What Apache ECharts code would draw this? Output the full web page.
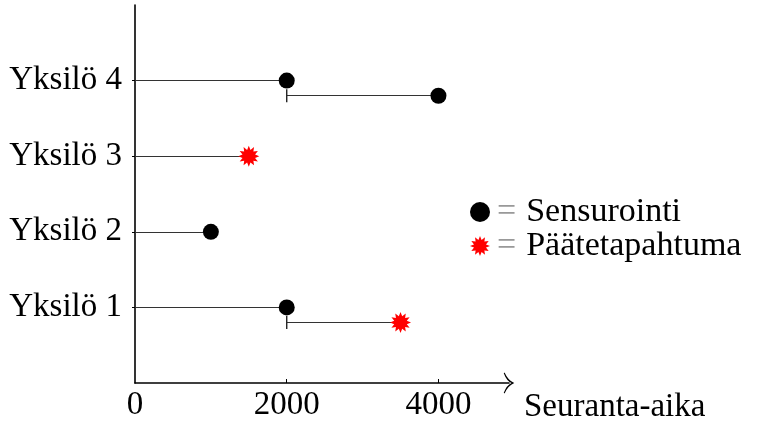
<!DOCTYPE html>
<html>
<head>
<meta charset="utf-8">
<script src="https://cdn.jsdelivr.net/npm/echarts@6/dist/echarts.min.js"></script>
<style>
  html, body { margin: 0; padding: 0; background: #fff; }
  #chart { width: 758px; height: 425px; }
</style>
</head>
<body>
<div id="chart"></div>
<script>
// yksilöt ja seuranta-ajat
const individuals = ['Yksilö 1', 'Yksilö 2', 'Yksilö 3', 'Yksilö 4'];
const rows = [1, 2, 3, 4];
const firstEnd = [2000, 1000, 1500, 2000];
const firstType = ['S', 'S', 'P', 'S'];
const secondEnd = [3500, null, null, 4000];
const secondType = ['P', null, null, 'S'];
const secondShift = 0.2;
const xTicks = [0, 2000, 4000];
const legendNames = ['Sensurointi', 'Päätetapahtuma'];

// tähti-symboli (12 sakaraa)
let star = 'path://';
for (let i = 0; i < 24; i++) {
    let r = i % 2 === 0 ? 10 : 6.2;
    let a = Math.PI * i / 12 - Math.PI / 2;
    star += (i === 0 ? 'M' : 'L') + (10 + r * Math.cos(a)).toFixed(2) + ' ' + (10 + r * Math.sin(a)).toFixed(2) + ' ';
}
star += 'Z';
// nuolenkärki, 2:1 koska symboli pitää kuvasuhteen
const chevron = 'path://M10 0 Q12.5 6 20 9.2 L19.4 10 Q12 7.2 10 2.6 Q8 7.2 0.6 10 L0 9.2 Q7.5 6 10 0 Z';

window.onload = () => {
    let chart = echarts.init(document.getElementById('chart'));

    let segs = [];
    let starts = [];
    let censor = [];
    let events = [];
    rows.forEach((y, i) => {
        segs.push({coords: [[0, y], [firstEnd[i], y]]});
        (firstType[i] === 'S' ? censor : events).push([firstEnd[i], y]);
        if (secondEnd[i] !== null) {
            let y2 = y - secondShift;
            segs.push({coords: [[firstEnd[i], y2], [secondEnd[i], y2]]});
            starts.push([firstEnd[i], y2]);
            (secondType[i] === 'S' ? censor : events).push([secondEnd[i], y2]);
        }
    });

    const font = 'Liberation Serif';
    const fs = 33;

    let option = {
        animation: false,
        grid: {left: 135, top: 5, right: 249, bottom: 42, containLabel: false},
        legend: {
            orient: 'vertical',
            left: 465,
            top: 190,
            itemWidth: 20,
            itemHeight: 20,
            itemGap: 0,
            itemStyle: {opacity: 1},
            selectedMode: false,
            data: legendNames,
            formatter: name => '{eq|=}{t|' + name + '}',
            textStyle: {
                fontFamily: font, fontSize: 34, color: '#000', lineHeight: 34,
                rich: {
                    eq: {color: '#999', fontFamily: font, fontSize: 34, padding: [0, 10, 0, 2], lineHeight: 34},
                    t: {color: '#000', fontFamily: font, fontSize: 34, lineHeight: 34}
                }
            }
        },
        xAxis: {
            type: 'value',
            min: 0,
            max: 4930,
            splitLine: {show: false},
            axisLine: {
                lineStyle: {color: '#000', width: 1.6},
                symbol: ['none', chevron],
                symbolSize: [21, 10.5]
            },
            axisTick: {inside: true, length: 4, customValues: [2000, 4000], lineStyle: {color: '#000'}},
            axisLabel: {
                customValues: xTicks,
                margin: 6,
                formatter: v => String(v),
                fontFamily: font, fontSize: fs, color: '#000'
            }
        },
        yAxis: {
            type: 'value',
            min: 0,
            max: 5,
            splitLine: {show: false},
            axisLine: {lineStyle: {color: '#000', width: 1.6}},
            axisTick: {length: 3, customValues: rows, lineStyle: {color: '#000'}},
            axisLabel: {
                customValues: rows,
                margin: 13,
                formatter: v => individuals[v - 1],
                fontFamily: font, fontSize: fs, color: '#000'
            }
        },
        series: [
            {
                type: 'lines',
                coordinateSystem: 'cartesian2d',
                silent: true,
                lineStyle: {color: '#333', width: 1.1, opacity: 1},
                data: segs,
                z: 1
            },
            {
                type: 'scatter',
                silent: true,
                symbol: 'rect',
                symbolSize: [1.4, 13],
                itemStyle: {color: '#222', opacity: 1},
                data: starts,
                z: 2
            },
            {
                name: 'Sensurointi',
                type: 'scatter',
                symbol: 'circle',
                symbolSize: 16,
                itemStyle: {color: '#000', opacity: 1},
                data: censor,
                z: 3
            },
            {
                name: 'Päätetapahtuma',
                type: 'scatter',
                symbol: star,
                symbolSize: 21,
                itemStyle: {color: '#ff0000', opacity: 1},
                data: events,
                z: 3
            }
        ],
        graphic: [{
            type: 'text',
            left: 524,
            top: 391,
            style: {text: 'Seuranta-aika', fontFamily: font, fontSize: fs, fill: '#000'}
        }]
    };
    chart.setOption(option);
};
</script>
</body>
</html>
